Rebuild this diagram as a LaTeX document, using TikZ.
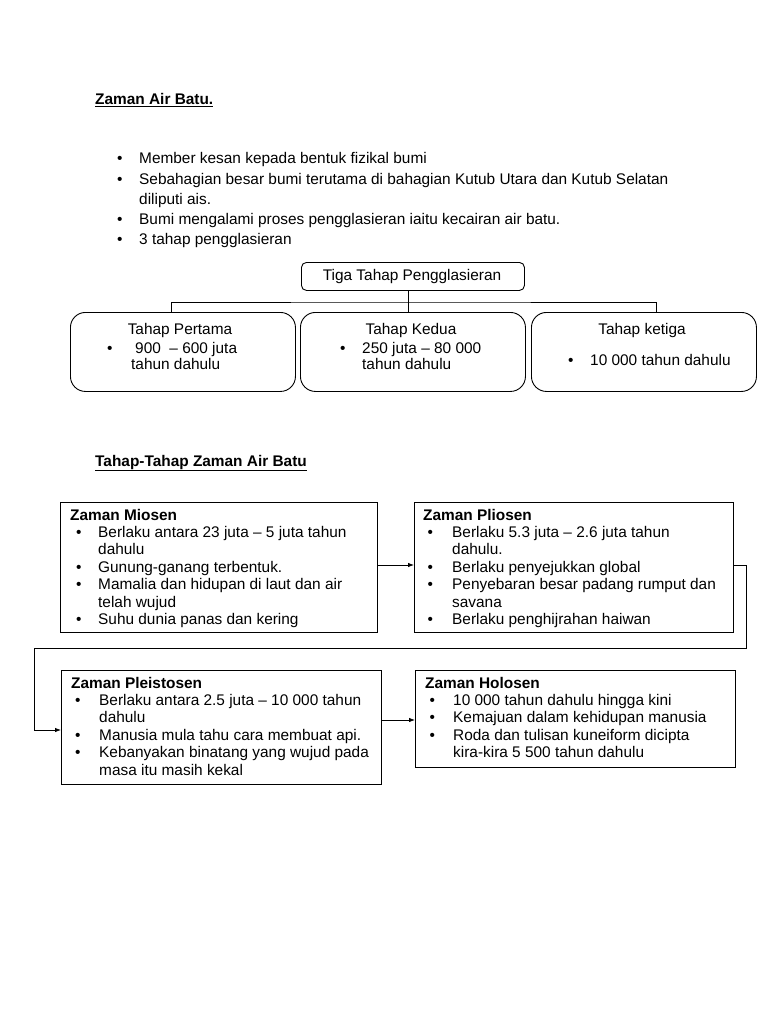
\documentclass[tikz,border=0pt]{standalone}
\usepackage{fontspec}
\setmainfont{Liberation Sans}
\usetikzlibrary{arrows.meta}
\newcommand\bli[3]{\par\noindent\hangindent=#2\hangafter=1\makebox[#2][l]{\hspace*{#1}•}#3}
\tikzset{
  box/.style={draw, line width=1pt, inner sep=0pt, anchor=north west},
  rbox/.style={draw, line width=0.9pt, rounded corners=15pt, inner sep=0pt, anchor=north west, minimum width=225pt, minimum height=79pt},
  txt/.style={inner sep=0pt, anchor=base west, font=\fontsize{15.4}{17.4}\selectfont},
  lnk/.style={line width=0.8pt},
  arr/.style={line width=0.8pt, -{Latex[length=6pt,width=4.5pt]}},
}
\begin{document}
\begin{tikzpicture}[x=1pt,y=-1pt]
\useasboundingbox[fill=white] (0,0) rectangle (768,1024);

% heading 1
\node[txt] (h1) at (95,105) {\textbf{\underline{Zaman Air Batu.}}};

\node[txt] (list) at (117,164) {\parbox[t]{640pt}{\fontsize{15.4}{20.2}\selectfont
\bli{0pt}{22pt}{Member kesan kepada bentuk fizikal bumi}
\bli{0pt}{22pt}{Sebahagian besar bumi terutama di bahagian Kutub Utara dan Kutub Selatan\newline diliputi ais.}
\bli{0pt}{22pt}{Bumi mengalami proses pengglasieran iaitu kecairan air batu.}
\bli{0pt}{22pt}{3 tahap pengglasieran}}};

% tree
\node[box, line width=0.9pt, rounded corners=5pt, minimum width=223pt, minimum height=28pt] (tiga) at (301,262) {};
\node[txt, anchor=base] (tigaT) at (412,280) {Tiga Tahap Pengglasieran};

\node[rbox] (t1) at (70,312) {};
\node[rbox] (t2) at (300,312) {};
\node[rbox] (t3) at (531,312) {};

\coordinate (jn) at (408,302);
\draw[lnk] (tiga.south -| jn) -- (jn);
\draw[lnk] (t1.north -| 171,0) |- (jn) -| (t3.north -| 656,0);
\draw[lnk] (jn) -- (t2.north -| jn);

\node[txt, anchor=base] (t1a) at (180,334) {Tahap Pertama};
\node[txt] (t1b) at (107,353) {\parbox[t]{180pt}{\fontsize{15.4}{16}\selectfont
\makebox[28pt][l]{•}900\ \ – 600 juta\newline\hspace*{24pt}tahun dahulu}};

\node[txt, anchor=base] (t2a) at (411,334) {Tahap Kedua};
\node[txt] (t2b) at (340,353) {\parbox[t]{180pt}{\fontsize{15.4}{16}\selectfont
\makebox[22pt][l]{•}250 juta – 80 000\newline\hspace*{22pt}tahun dahulu}};

\node[txt, anchor=base] (t3a) at (642,334) {Tahap ketiga};
\node[txt] (t3b) at (568,365) {\makebox[22pt][l]{•}10 000 tahun dahulu};

% heading 2
\node[txt] (h2) at (95,466) {\textbf{\underline{Tahap-Tahap Zaman Air Batu}}};

% era boxes
\node[box, minimum width=317pt, minimum height=130pt] (mio) at (60,502) {};
\node[box, minimum width=319pt, minimum height=130pt] (pli) at (414,502) {};
\node[box, minimum width=320pt, minimum height=114pt] (ple) at (61,670) {};
\node[box, minimum width=320pt, minimum height=97pt] (hol) at (415,670) {};

\node[txt] (mioT) at (70,520) {\parbox[t]{305pt}{
\textbf{Zaman Miosen}
\bli{6pt}{28pt}{Berlaku antara 23 juta – 5 juta tahun\newline dahulu}
\bli{6pt}{28pt}{Gunung-ganang terbentuk.}
\bli{6pt}{28pt}{Mamalia dan hidupan di laut dan air\newline telah wujud}
\bli{6pt}{28pt}{Suhu dunia panas dan kering}}};

\node[txt] (pliT) at (423,520) {\parbox[t]{310pt}{
\textbf{Zaman Pliosen}
\bli{4.5pt}{29pt}{Berlaku 5.3 juta – 2.6 juta tahun\newline dahulu.}
\bli{4.5pt}{29pt}{Berlaku penyejukkan global}
\bli{4.5pt}{29pt}{Penyebaran besar padang rumput dan\newline savana}
\bli{4.5pt}{29pt}{Berlaku penghijrahan haiwan}}};

\node[txt] (pleT) at (71,688) {\parbox[t]{305pt}{
\textbf{Zaman Pleistosen}
\bli{4pt}{28pt}{Berlaku antara 2.5 juta – 10 000 tahun\newline dahulu}
\bli{4pt}{28pt}{Manusia mula tahu cara membuat api.}
\bli{4pt}{28pt}{Kebanyakan binatang yang wujud pada\newline masa itu masih kekal}}};

\node[txt] (holT) at (425,688) {\parbox[t]{305pt}{
\textbf{Zaman Holosen}
\bli{4.5pt}{28pt}{10 000 tahun dahulu hingga kini}
\bli{4.5pt}{28pt}{Kemajuan dalam kehidupan manusia}
\bli{4.5pt}{28pt}{Roda dan tulisan kuneiform dicipta\newline kira-kira 5 500 tahun dahulu}}};

% connectors
\draw[arr] (mio.east |- 0,565) -- (pli.west |- 0,565);
\coordinate (c1) at (746,648);
\coordinate (c2) at (34,648);
\draw[arr] (pli.east |- 0,565) -| (c1) -- (c2) |- (ple.west |- 0,730);
\draw[arr] (ple.east |- 0,720) -- (hol.west |- 0,720);
\end{tikzpicture}
\end{document}
